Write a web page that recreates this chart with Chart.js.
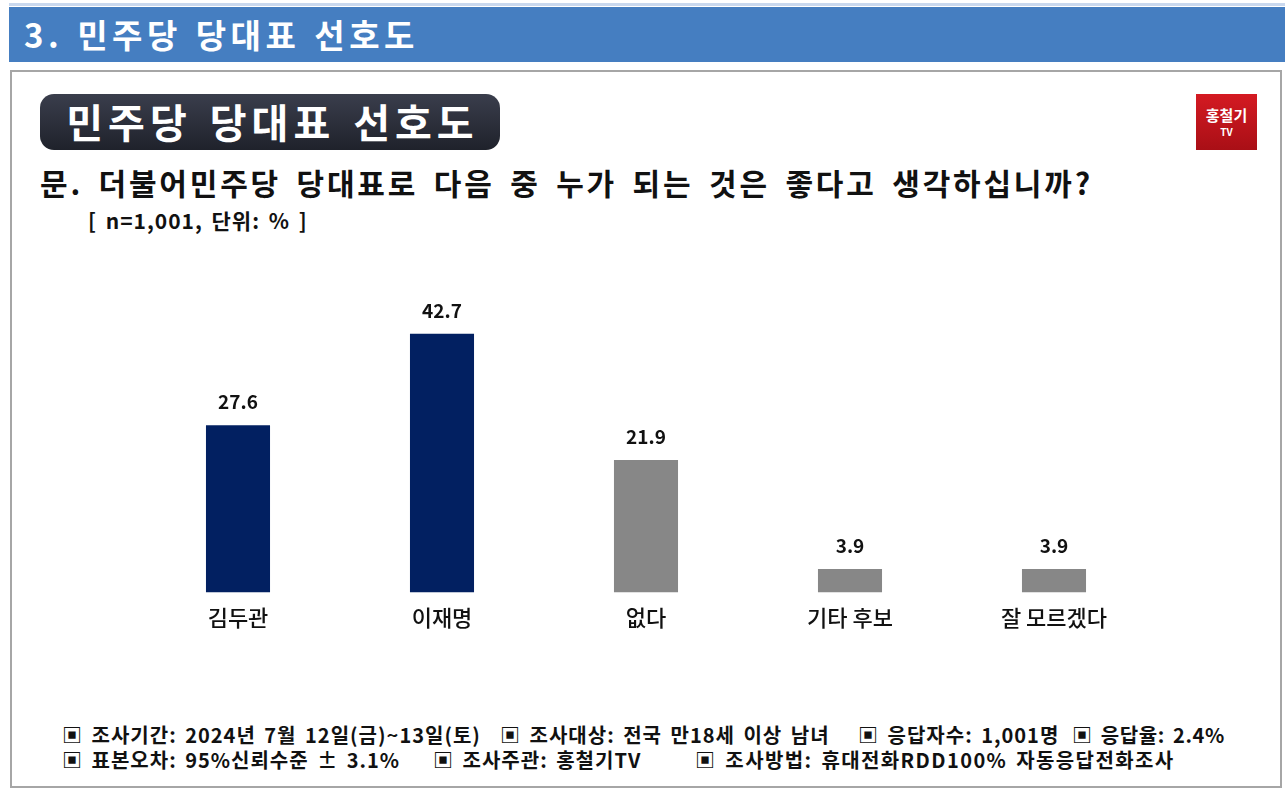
<!DOCTYPE html>
<html>
<head>
<meta charset="utf-8">
<script src="https://cdn.jsdelivr.net/npm/chart.js@4"></script>
<style>
  body { margin:0; width:1285px; height:795px; background:#fff; position:relative; overflow:hidden;
         font-family:"Noto Sans CJK KR","Noto Sans",sans-serif; }
  .topline { position:absolute; left:9px; top:3px; width:1276px; height:3px; background:#c9d8ee; }
  .band { position:absolute; left:9px; top:7px; width:1276px; height:55px; background:#457ec1; }
  .band span { position:absolute; left:15px; top:3px; color:#fff; font-size:33px; font-weight:700; letter-spacing:4.5px; word-spacing:2px; }
  .panel { position:absolute; left:10px; top:70px; width:1268px; height:714px; border:2px solid #a6a6a6; }
  .pill { position:absolute; left:40px; top:94px; width:460px; height:56px; border-radius:14px;
          background:linear-gradient(#3a3e4c,#1f222b); color:#fff; font-size:40px; font-weight:700;
          text-align:center; line-height:54px; letter-spacing:5px; word-spacing:4px; text-indent:5px; }
  .logo { position:absolute; left:1196px; top:94px; width:61px; height:56px; background:linear-gradient(#d41a22,#a90f16);
          color:#fff; text-align:center; font-weight:700; font-size:15px; line-height:15px; padding-top:13px; box-sizing:border-box; }
  .q { position:absolute; left:40px; top:160px; font-size:30px; font-weight:700; color:#111; letter-spacing:2.8px; word-spacing:6px; }
  .n { position:absolute; left:88px; top:205px; font-size:21px; font-weight:700; color:#111; letter-spacing:1px; word-spacing:3px; }
  .foot { position:absolute; font-size:20px; font-weight:700; color:#111; white-space:pre; letter-spacing:1px; word-spacing:3px; }
  #wrap { position:absolute; left:136px; top:269px; width:1020px; height:374px; }
</style>
</head>
<body>
<div class="topline"></div>
<div class="band"><span>3. 민주당 당대표 선호도</span></div>
<div class="panel"></div>
<div class="pill">민주당 당대표 선호도</div>
<div class="logo">홍철기<br><span style="font-size:10px">TV</span></div>
<div class="q">문. 더불어민주당 당대표로 다음 중 누가 되는 것은 좋다고 생각하십니까?</div>
<div class="n">[ n=1,001, 단위: % ]</div>
<div class="foot" style="top:720px;left:62px">▣ 조사기간: 2024년 7월 12일(금)~13일(토)</div>
<div class="foot" style="top:720px;left:500px">▣ 조사대상: 전국 만18세 이상 남녀</div>
<div class="foot" style="top:720px;left:858px">▣ 응답자수: 1,001명</div>
<div class="foot" style="top:720px;left:1072px;letter-spacing:0.6px">▣ 응답율: 2.4%</div>
<div class="foot" style="top:745px;left:62px">▣ 표본오차: 95%신뢰수준 ± 3.1%</div>
<div class="foot" style="top:745px;left:433px">▣ 조사주관: 홍철기TV</div>
<div class="foot" style="top:745px;left:695px;letter-spacing:1.4px">▣ 조사방법: 휴대전화RDD100% 자동응답전화조사</div>
<div id="wrap"><canvas id="c"></canvas></div>
<script>
const categories = ["김두관", "이재명", "없다", "기타 후보", "잘 모르겠다"];
const values = [27.6, 42.7, 21.9, 3.9, 3.9];
const barColors = ["#022061", "#022061", "#878787", "#878787", "#878787"];

// 막대 위 값 표시
const valueLabels = {
  id: "valueLabels",
  afterDatasetsDraw(chart) {
    const ctx = chart.ctx;
    const meta = chart.getDatasetMeta(0);
    ctx.save();
    ctx.font = "bold 19px 'Noto Sans CJK KR', sans-serif";
    ctx.fillStyle = "#111";
    ctx.textAlign = "center";
    ctx.textBaseline = "bottom";
    meta.data.forEach((bar, i) => {
      ctx.fillText(values[i].toFixed(1), bar.x, bar.y - 14);
    });
    ctx.restore();
  }
};

new Chart(document.getElementById("c"), {
  type: "bar",
  data: {
    labels: categories,
    datasets: [{ data: values, backgroundColor: barColors, barPercentage: 0.314, categoryPercentage: 1 }]
  },
  options: {
    responsive: true,
    maintainAspectRatio: false,
    animation: false,
    layout: { padding: 0 },
    plugins: { legend: { display: false }, tooltip: { enabled: false } },
    scales: {
      x: {
        grid: { display: false, drawTicks: false },
        border: { display: false },
        ticks: { color: "#111", padding: 12, font: { family: "'Noto Sans CJK KR', sans-serif", size: 22, weight: "500" } }
      },
      y: { display: false, min: 0, max: 53.4 }
    }
  },
  plugins: [valueLabels]
});
</script>
</body>
</html>
